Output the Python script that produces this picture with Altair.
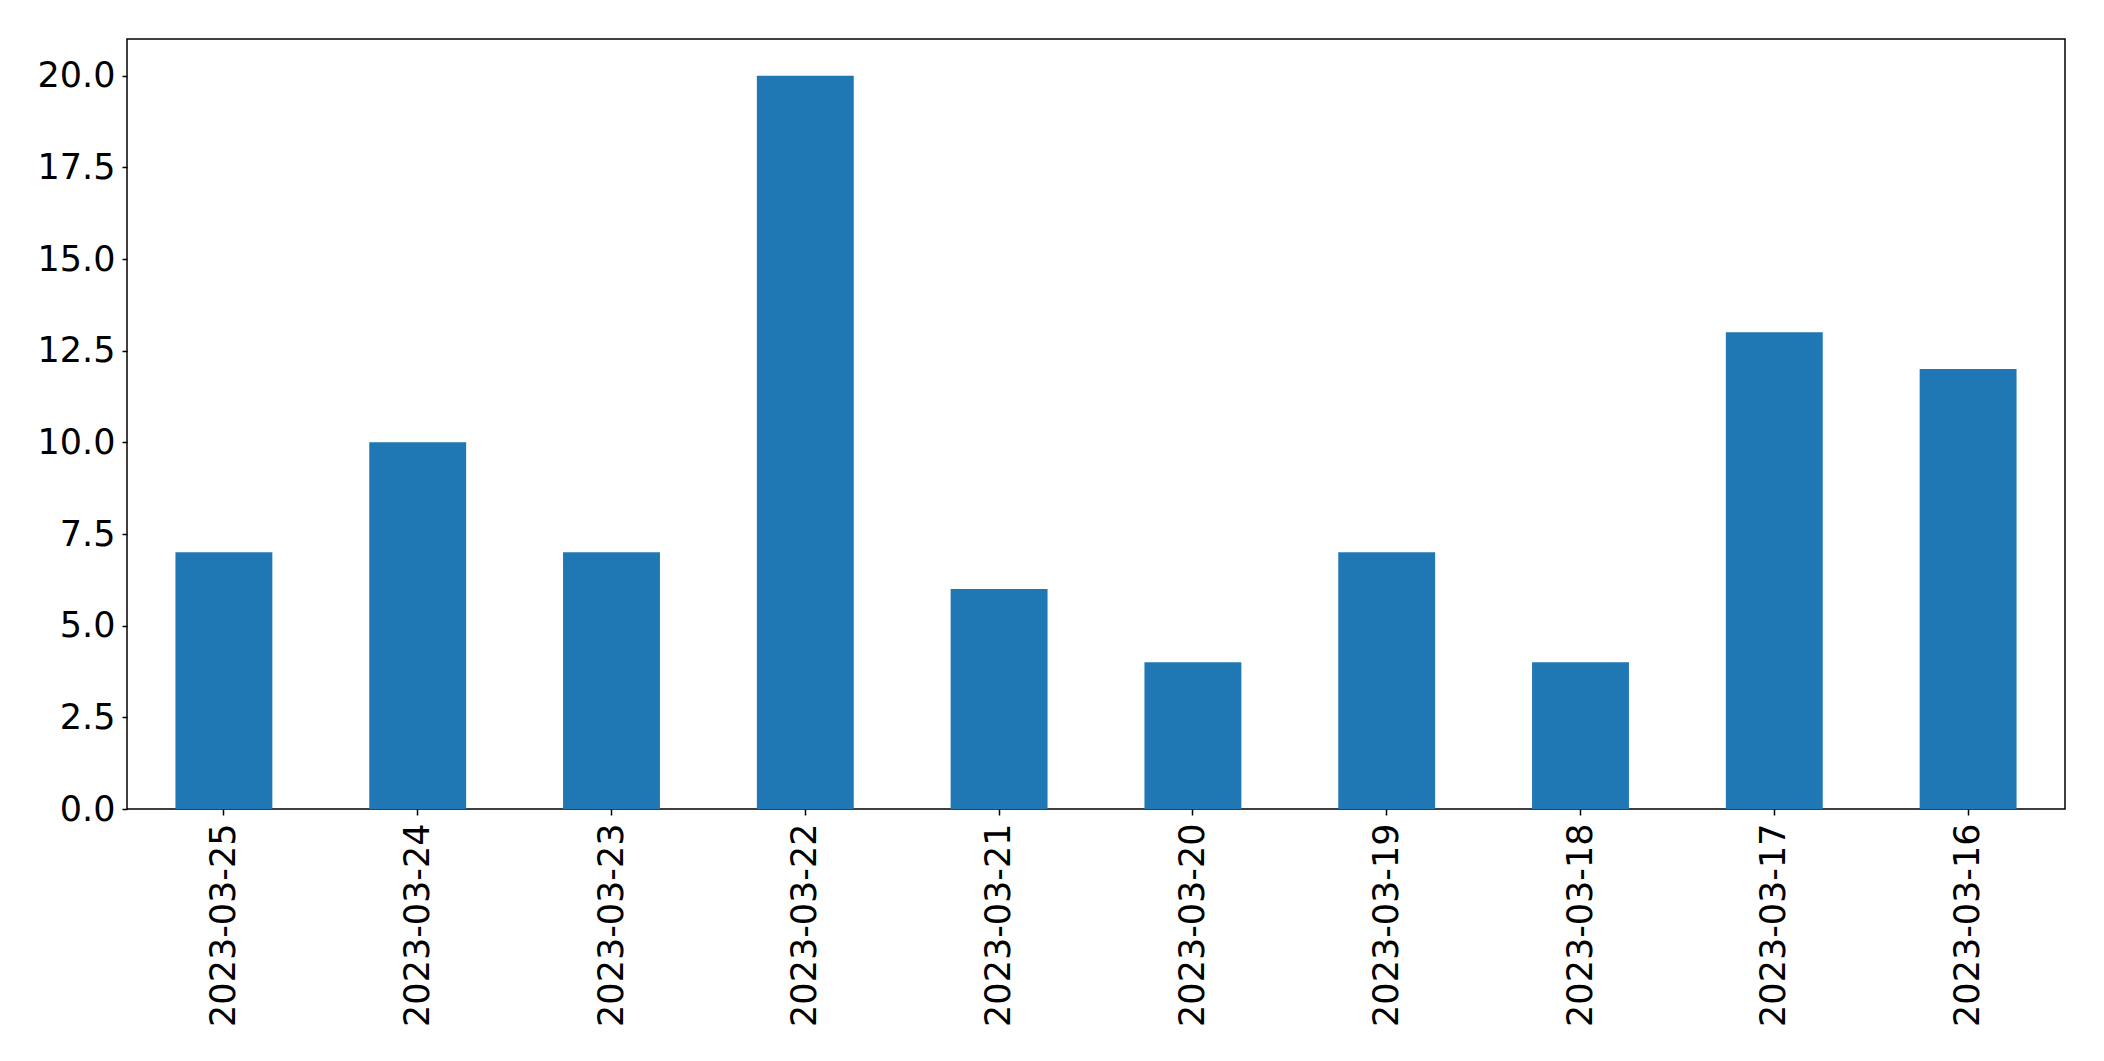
import altair as alt
import pandas as pd

dates = ["2023-03-25", "2023-03-24", "2023-03-23", "2023-03-22", "2023-03-21",
         "2023-03-20", "2023-03-19", "2023-03-18", "2023-03-17", "2023-03-16"]
counts = [7, 10, 7, 20, 6, 4, 7, 4, 13, 12]
y_ticks = [0, 2.5, 5, 7.5, 10, 12.5, 15, 17.5, 20]

df = pd.DataFrame({"date": dates, "count": counts})

chart = alt.Chart(df).mark_bar(color="#1f77b4").encode(
    x=alt.X("date:N", sort=dates, title=None,
            scale=alt.Scale(paddingInner=0.5, paddingOuter=0.25),
            axis=alt.Axis(labelAngle=-90, labelFontSize=35, labelFont="DejaVu Sans",
                          labelColor="black", tickColor="black", tickSize=6, tickWidth=1.5,
                          labelPadding=8, labelLimit=0, domain=False, grid=False)),
    y=alt.Y("count:Q", title=None,
            scale=alt.Scale(domain=[0, 21], nice=False, zero=True),
            axis=alt.Axis(values=y_ticks, format=".1f", labelFontSize=35,
                          labelFont="DejaVu Sans", labelColor="black", tickColor="black",
                          tickSize=5, tickWidth=1.5, labelPadding=7, domain=False, grid=False)),
).properties(
    width=1938, height=770,
    autosize=alt.AutoSizeParams(type="none"),
    padding={"left": 119, "top": 31, "right": 20, "bottom": 230},
).configure_view(stroke="black", strokeWidth=1.5)

chart.save("out.html", embed_options={"renderer": "svg", "actions": False})
